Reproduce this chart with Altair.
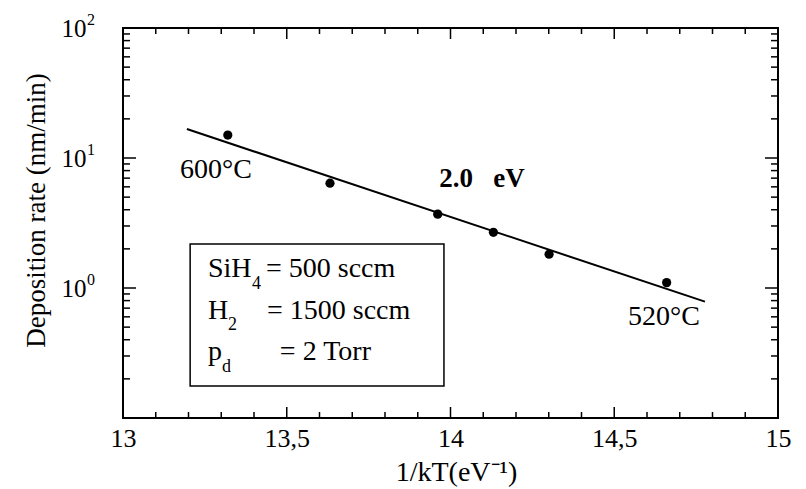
import altair as alt
import pandas as pd

# Measured deposition rates versus inverse thermal energy
inv_kT = [13.32, 13.632, 13.961, 14.131, 14.301, 14.660]
rate = [15.0, 6.4, 3.7, 2.68, 1.82, 1.10]

# Arrhenius fit (2.0 eV) end points
fit_inv_kT = [13.195, 14.777]
fit_rate = [16.7, 0.785]

# Axis ticks (drawn inward on all four sides)
x_label_values = [13, 13.5, 14, 14.5, 15]
x_major_ticks = [13.5, 14.0, 14.5]
x_minor_ticks = [13.1, 13.2, 13.3, 13.4, 13.6, 13.7, 13.8, 13.9,
                 14.1, 14.2, 14.3, 14.4, 14.6, 14.7, 14.8, 14.9]
y_label_values = [1, 10, 100]
y_label_exps = ["0", "1", "2"]
y_major_ticks = [1, 10]
y_minor_ticks = [0.2, 0.3, 0.4, 0.5, 0.6, 0.7, 0.8, 0.9,
                 2, 3, 4, 5, 6, 7, 8, 9,
                 20, 30, 40, 50, 60, 70, 80, 90]

# Temperature and activation-energy annotations
temp_labels = ["600°C", "520°C"]
temp_x = [13.284, 14.652]
temp_y = [8.09, 0.598]
ea_label = ["2.0\u00a0\u00a0\u00a0eV"]
ea_x = [14.096]
ea_y = [6.9]

# Process-condition box
box_x = [13.205]
box_x2 = [13.98]
box_y = [2.18]
box_y2 = [0.176]
cond_text = ["SiH", "= 500 sccm", "H", "= 1500 sccm", "p", "= 2 Torr"]
cond_x = [13.2595, 13.4366, 13.2595, 13.4397, 13.2595, 13.479]
cond_y = [1.215, 1.215, 0.578, 0.578, 0.279, 0.279]
sub_text = ["4", "2", "d"]
sub_x = [13.394, 13.3206, 13.302]
sub_y = [0.982, 0.475, 0.226]

W, H = 655, 390
FONT = "Liberation Serif"
xs = alt.Scale(domain=[13, 15], nice=False, zero=False)
ys = alt.Scale(type="log", domain=[0.1, 100], nice=False)

pts = pd.DataFrame({"x": inv_kT, "y": rate})
fit = pd.DataFrame({"x": fit_inv_kT, "y": fit_rate})

x_axis = alt.Axis(
    values=x_label_values,
    labelExpr="replace(format(datum.value, '.3~g'), '.', ',')",
    ticks=False, tickSize=0, domain=False, grid=False, labelFlush=False,
    labelFont=FONT, labelFontSize=26, labelColor="black", labelPadding=7,
    title="1/kT(eV⁻¹)", titleFont=FONT, titleFontSize=28,
    titleFontWeight="normal", titleColor="black",
    titleX=333, titleY=54, titleBaseline="middle",
)
y_axis = alt.Axis(
    values=y_label_values, labelExpr="'10'",
    ticks=False, tickSize=0, domain=False, grid=False, labelFlush=False,
    labelFont=FONT, labelFontSize=25, labelColor="black", labelPadding=37,
    title="Deposition rate (nm/min)", titleFont=FONT, titleFontSize=27,
    titleFontWeight="normal", titleColor="black",
    titleX=-87, titleY=182, titleAngle=270, titleAlign="center",
    titleBaseline="middle",
)

points = alt.Chart(pts).mark_circle(size=85, color="black", opacity=1).encode(
    x=alt.X("x:Q", scale=xs, axis=x_axis),
    y=alt.Y("y:Q", scale=ys, axis=y_axis),
)

line = alt.Chart(fit).mark_line(color="black", strokeWidth=2).encode(
    x=alt.X("x:Q", scale=xs),
    y=alt.Y("y:Q", scale=ys),
)

# Inward tick marks
def xticks(values, length):
    d = pd.DataFrame({"x": values})
    bottom = alt.Chart(d).mark_rule(color="black", strokeWidth=1.5).encode(
        x=alt.X("x:Q", scale=xs), y=alt.value(H), y2=alt.value(H - length))
    top = alt.Chart(d).mark_rule(color="black", strokeWidth=1.5).encode(
        x=alt.X("x:Q", scale=xs), y=alt.value(0), y2=alt.value(length))
    return [bottom, top]


def yticks(values, length):
    d = pd.DataFrame({"y": values})
    left = alt.Chart(d).mark_rule(color="black", strokeWidth=1.5).encode(
        y=alt.Y("y:Q", scale=ys), x=alt.value(0), x2=alt.value(length))
    right = alt.Chart(d).mark_rule(color="black", strokeWidth=1.5).encode(
        y=alt.Y("y:Q", scale=ys), x=alt.value(W), x2=alt.value(W - length))
    return [left, right]


tick_layers = (xticks(x_major_ticks, 11) + xticks(x_minor_ticks, 6)
               + yticks(y_major_ticks, 13) + yticks(y_minor_ticks, 7))

# Exponents of the y tick labels
exps = alt.Chart(pd.DataFrame({"y": y_label_values, "t": y_label_exps})).mark_text(
    font=FONT, fontSize=16, align="left", baseline="middle", dy=-8, color="black"
).encode(y=alt.Y("y:Q", scale=ys), x=alt.value(-36), text="t:N")

temps = alt.Chart(pd.DataFrame({"x": temp_x, "y": temp_y, "t": temp_labels})).mark_text(
    font=FONT, fontSize=28, align="center", baseline="middle", color="black"
).encode(x=alt.X("x:Q", scale=xs), y=alt.Y("y:Q", scale=ys), text="t:N")

ea = alt.Chart(pd.DataFrame({"x": ea_x, "y": ea_y, "t": ea_label})).mark_text(
    font=FONT, fontSize=27, fontWeight="bold", align="center", baseline="middle",
    color="black"
).encode(x=alt.X("x:Q", scale=xs), y=alt.Y("y:Q", scale=ys), text="t:N")

box = alt.Chart(pd.DataFrame({"x": box_x, "x2": box_x2, "y": box_y, "y2": box_y2})).mark_rect(
    fill="white", stroke="black", strokeWidth=1.5
).encode(x=alt.X("x:Q", scale=xs), x2="x2:Q", y=alt.Y("y:Q", scale=ys), y2="y2:Q")

cond = alt.Chart(pd.DataFrame({"x": cond_x, "y": cond_y, "t": cond_text})).mark_text(
    font=FONT, fontSize=28, align="left", baseline="alphabetic", color="black"
).encode(x=alt.X("x:Q", scale=xs), y=alt.Y("y:Q", scale=ys), text="t:N")

subs = alt.Chart(pd.DataFrame({"x": sub_x, "y": sub_y, "t": sub_text})).mark_text(
    font=FONT, fontSize=18, align="left", baseline="alphabetic", color="black"
).encode(x=alt.X("x:Q", scale=xs), y=alt.Y("y:Q", scale=ys), text="t:N")

chart = alt.layer(
    points, line, *tick_layers, exps, temps, ea, box, cond, subs
).properties(
    width=W, height=H,
    autosize=alt.AutoSizeParams(type="none"),
    padding={"left": 123, "top": 28, "right": 28, "bottom": 71},
    background="white",
).configure_view(stroke="black", strokeWidth=2)

chart.save("out.html", embed_options={"renderer": "svg", "actions": False})
